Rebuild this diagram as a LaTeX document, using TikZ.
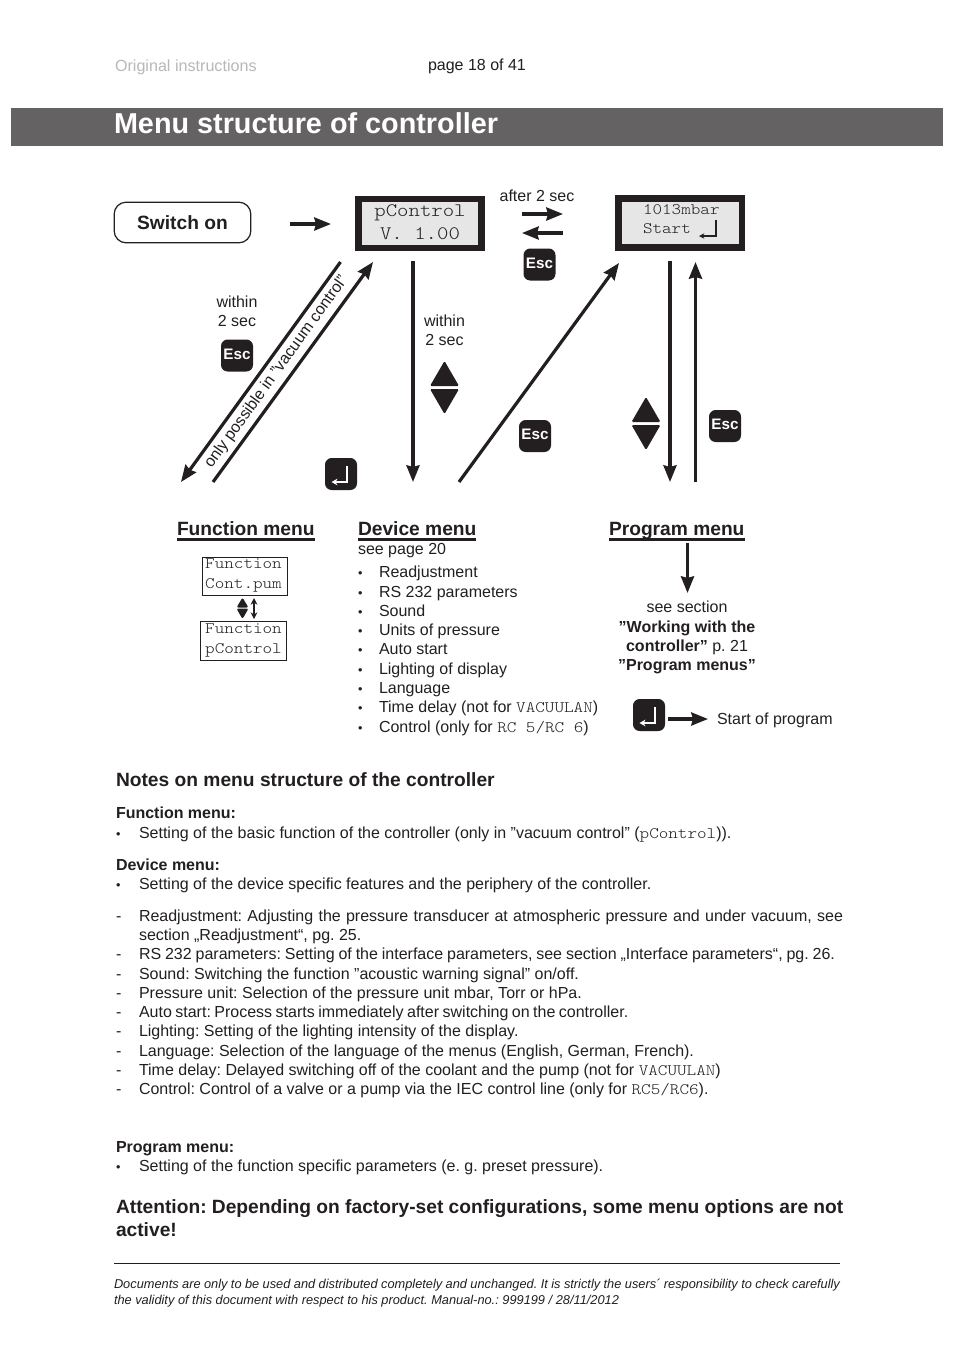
\documentclass[tikz,border=0pt]{standalone}
\usepackage{fontspec}
\usetikzlibrary{arrows.meta,calc}
\setmainfont{Liberation Sans}
\newfontfamily\lcd[FakeStretch=1.14]{Latin Modern Mono Light}
\definecolor{ink}{HTML}{231F20}
\definecolor{lcdbg}{HTML}{E6E6E6}
\definecolor{band}{HTML}{656263}
\newcommand{\fs}[1]{\fontsize{#1}{#1}\selectfont}
\newcommand{\mono}[1]{{\lcd\fs{12}#1}}
\newcommand{\fitline}[2]{\hbox to #1{\spaceskip=0.278em plus 1em minus 1em\relax #2}}
\tikzset{x=0.75pt,y=-0.75pt,
  every node/.style={inner sep=0pt,outer sep=0pt,text=ink},
  txt/.style={anchor=base west,font=\fs{12}},
  dot/.style={anchor=base west,font=\fs{9.5}},
  ctr/.style={anchor=base,font=\fs{12}},
  bld/.style={anchor=base west,font=\fs{12}\bfseries},
  head/.style={anchor=base west,font=\fs{14.4}\bfseries},
  foot/.style={anchor=base west,font=\fs{9.6}\itshape},
  conn/.style={draw=ink,line width=2.4pt},
  arr/.style={conn,-{Stealth[length=12.5pt,width=9.75pt,inset=1.2pt]}},
  lcdouter/.style={draw=none,fill=ink},
  lcdinner/.style={draw=none,fill=lcdbg},
  keybox/.style={draw=none,fill=ink,rounded corners=5pt,minimum width=24pt,minimum height=24pt},
  small/.style={draw=ink,line width=0.75pt},
  ulin/.style={draw=ink,line width=1.6pt}
}
% key symbols
\newcommand{\esckey}[3]{\node[keybox] (#1) at (#2,#3) {};
  \node[anchor=base,font=\fs{11.4}\bfseries,text=white] at ($(#1)+(0,3.5)$) {Esc};}
\newcommand{\enterkey}[3]{\node[keybox] (#1) at (#2,#3) {};
  \draw[white,line width=1.1pt,-{Stealth[length=4.5pt,width=5pt]}] ($(#1)+(6,-8)$) -- ($(#1)+(6,8)$) -- ($(#1)+(-9.5,8)$);}
\newcommand{\updown}[2]{%
  \fill[ink,rounded corners=1pt] (#1-14.5,#2-2) -- (#1,#2-27) -- (#1+14.5,#2-2) -- cycle;
  \fill[ink,rounded corners=1pt] (#1-14.5,#2+1) -- (#1,#2+26) -- (#1+14.5,#2+1) -- cycle;}
\begin{document}
\begin{tikzpicture}
\frenchspacing
\useasboundingbox (0,0) rectangle (954,1350);
\fill[white] (0,0) rectangle (954,1350);
% header
\node[anchor=base west,font=\fs{12.1},text=black!28] (orig) at (115,71) {Original instructions};
\node[txt] (page) at (428,70) {page 18 of 41};
\fill[band] (11,108) rectangle (943,146);
\node[anchor=base west,font=\fs{21.6}\bfseries,text=white] (title) at (114,133) {Menu structure of controller};
% switch on
\node[draw=ink,line width=0.9pt,rounded corners=9pt,minimum width=102.5pt,minimum height=30.5pt,font=\fs{14.4}\bfseries] (sw) at (182.5,222.5) {Switch on};
% lcd 1
\node[lcdouter,minimum width=97.5pt,minimum height=41.25pt] (lcdA) at (420,223.5) {};
\node[lcdinner,minimum width=87pt,minimum height=32.25pt] (lcdAi) at (420,223.5) {};
\node[anchor=base,font=\lcd\fs{14.3}] (a1) at (420,216) {pControl};
\node[anchor=base,font=\lcd\fs{14.3}] (a2) at (420,239) {V. 1.00};
% lcd 2
\node[lcdouter,minimum width=97.5pt,minimum height=42pt] (lcdB) at (680,223) {};
\node[lcdinner,minimum width=87.75pt,minimum height=31.5pt] (lcdBi) at (680.5,223) {};
\node[anchor=base west,font=\lcd\fs{12}] (b1) at (643,214) {1013mbar};
\node[anchor=base west,font=\lcd\fs{12}] (b2) at (643,233) {Start};
\draw[ink,line width=0.9pt,-{Stealth[length=4pt,width=4pt]}] (716,220) -- (716,236) -- (699,236);
% top arrows
\coordinate (c1) at (290,224); \coordinate (c2) at (331,224);
\draw[arr] (c1) -- (c2);
\node[ctr] (after) at (537,201) {after 2 sec};
\coordinate (c3) at (522,214); \coordinate (c4) at (563,214);
\draw[arr] (c3) -- (c4);
\coordinate (c5) at (563,233); \coordinate (c6) at (522,233);
\draw[arr] (c5) -- (c6);
\esckey{escA}{539.5}{264.5}
% diagonals
\coordinate (d1) at (340.5,262); \coordinate (d2) at (181,482);
\draw[arr] (d1) -- (d2);
\coordinate (d3) at (213,482); \coordinate (d4) at (373,262);
\draw[arr] (d3) -- (d4);
\node[font=\fs{12},rotate=54.2] (only) at (276.5,372) {only possible in ”vacuum control”};
\node[ctr] (w1) at (237,307) {within};
\node[ctr] (w2) at (237,326) {2 sec};
\esckey{escB}{237}{355.5}
\enterkey{entA}{341}{474}
% middle
\coordinate (e1) at (413,261); \coordinate (e2) at (413,482);
\draw[arr] (e1) -- (e2);
\node[ctr] (w3) at (444.5,326) {within};
\node[ctr] (w4) at (444.5,345) {2 sec};
\updown{444.5}{388}
\coordinate (f1) at (459,482); \coordinate (f2) at (619,263);
\draw[arr] (f1) -- (f2);
\esckey{escC}{535}{436}
% right
\coordinate (g1) at (670,261); \coordinate (g2) at (670,482);
\draw[arr] (g1) -- (g2);
\coordinate (g3) at (695.5,482); \coordinate (g4) at (695.5,262);
\draw[arr] (g3) -- (g4);
\updown{646}{424}
\esckey{escD}{725}{426}
% headings
\node[head] (hf) at (177,535) {Function menu};
\draw[ulin] (177,539.5) -- (315,539.5);
\node[head] (hd) at (358,535) {Device menu};
\draw[ulin] (358,539.5) -- (476,539.5);
\node[head] (hp) at (609,535) {Program menu};
\draw[ulin] (609,539.5) -- (745,539.5);
% function boxes
\node[small,minimum width=64pt,minimum height=29pt] (fb1) at (245,576.5) {};
\node[anchor=base,font=\lcd\fs{12}] at (243.5,568) {Function};
\node[anchor=base,font=\lcd\fs{12}] at (243.5,588) {Cont.pum};
\node[small,minimum width=64pt,minimum height=29.5pt] (fb2) at (243.5,641) {};
\node[anchor=base,font=\lcd\fs{12}] at (243.5,633) {Function};
\node[anchor=base,font=\lcd\fs{12}] at (243.5,653) {pControl};
\fill[ink,rounded corners=1.5pt] (236.5,607.5) -- (242.5,597.5) -- (248.5,607.5) -- cycle;
\fill[ink,rounded corners=1.5pt] (236.5,608.5) -- (242.5,619) -- (248.5,608.5) -- cycle;
\coordinate (h1) at (254,598); \coordinate (h2) at (254,619);
\draw[ink,line width=0.9pt,{Stealth[length=5pt,width=5pt]}-{Stealth[length=5pt,width=5pt]}] (h1) -- (h2);
% device list
\node[txt] at (358,554) {see page 20};
\foreach \yy/\tt in {577/Readjustment,597/RS 232 parameters,616/Sound,635/Units of pressure,654/Auto start,674/Lighting of display,693/Language,712/{Time delay (not for \mono{VACUULAN})},732/{Control (only for \mono{RC 5/RC 6})}}{
  \node[dot] at (358,\yy) {•};
  \node[txt] at (379,\yy) {\tt};
}
% program
\coordinate (p1) at (687.5,543); \coordinate (p2) at (687.5,593);
\draw[arr] (p1) -- (p2);
\node[ctr] at (687,612) {see section};
\node[ctr] at (687,632) {\bfseries ”Working with the};
\node[ctr] at (687,651) {\textbf{controller”} p. 21};
\node[ctr] at (687,670) {\bfseries ”Program menus”};
\enterkey{entB}{649}{715}
\coordinate (q1) at (668,719); \coordinate (q2) at (708,719);
\draw[arr] (q1) -- (q2);
\node[txt] at (717,724) {Start of program};
% notes
\node[anchor=base west,font=\fs{14.4}\bfseries] at (116,786) {Notes on menu structure of the controller};
\node[bld] at (116,818) {Function menu:};
\node[dot] at (116,838) {•};
\node[txt] at (139,838) {Setting of the basic function of the controller (only in ”vacuum control” (\mono{pControl})).};
\node[bld] at (116,870) {Device menu:};
\node[dot] at (116,889) {•};
\node[txt] at (139,889) {Setting of the device specific features and the periphery of the controller.};
\foreach \yy in {921,959,979,998,1017,1036,1056,1075,1094}{\node[txt] at (116,\yy) {-};}
\node[txt] at (139,921) {\fitline{528pt}{Readjustment: Adjusting the pressure transducer at atmospheric pressure and under vacuum, see}};
\node[txt] at (139,940) {section „Readjustment“, pg. 25.};
\node[txt] at (139,959) {\fitline{522pt}{RS 232 parameters: Setting of the interface parameters, see section „Interface parameters“, pg. 26.}};
\node[txt] at (139,979) {Sound: Switching the function ”acoustic warning signal” on/off.};
\node[txt] at (139,998) {Pressure unit: Selection of the pressure unit mbar, Torr or hPa.};
\node[txt] at (139,1017) {\fitline{367pt}{Auto start: Process starts immediately after switching on the controller.}};
\node[txt] at (139,1036) {Lighting: Setting of the lighting intensity of the display.};
\node[txt] at (139,1056) {Language: Selection of the language of the menus (English, German, French).};
\node[txt] at (139,1075) {Time delay: Delayed switching off of the coolant and the pump (not for \mono{VACUULAN})};
\node[txt] at (139,1094) {Control: Control of a valve or a pump via the IEC control line (only for \mono{RC5/RC6}).};
\node[bld] at (116,1152) {Program menu:};
\node[dot] at (116,1171) {•};
\node[txt] at (139,1171) {Setting of the function specific parameters (e. g. preset pressure).};
\node[head] at (116,1213) {\hbox to 545.5pt{Attention: Depending on factory-set configurations, some menu options are not}};
\node[head] at (116,1236) {active!};
\draw[ink,line width=0.6pt] (114,1263.5) -- (840,1263.5);
\node[foot] at (114,1288) {\fitline{544.5pt}{Documents are only to be used and distributed completely and unchanged. It is strictly the users´ responsibility to check carefully}};
\node[foot] at (114,1304) {the validity of this document with respect to his product. Manual-no.: 999199 / 28/11/2012};
\end{tikzpicture}
\end{document}
